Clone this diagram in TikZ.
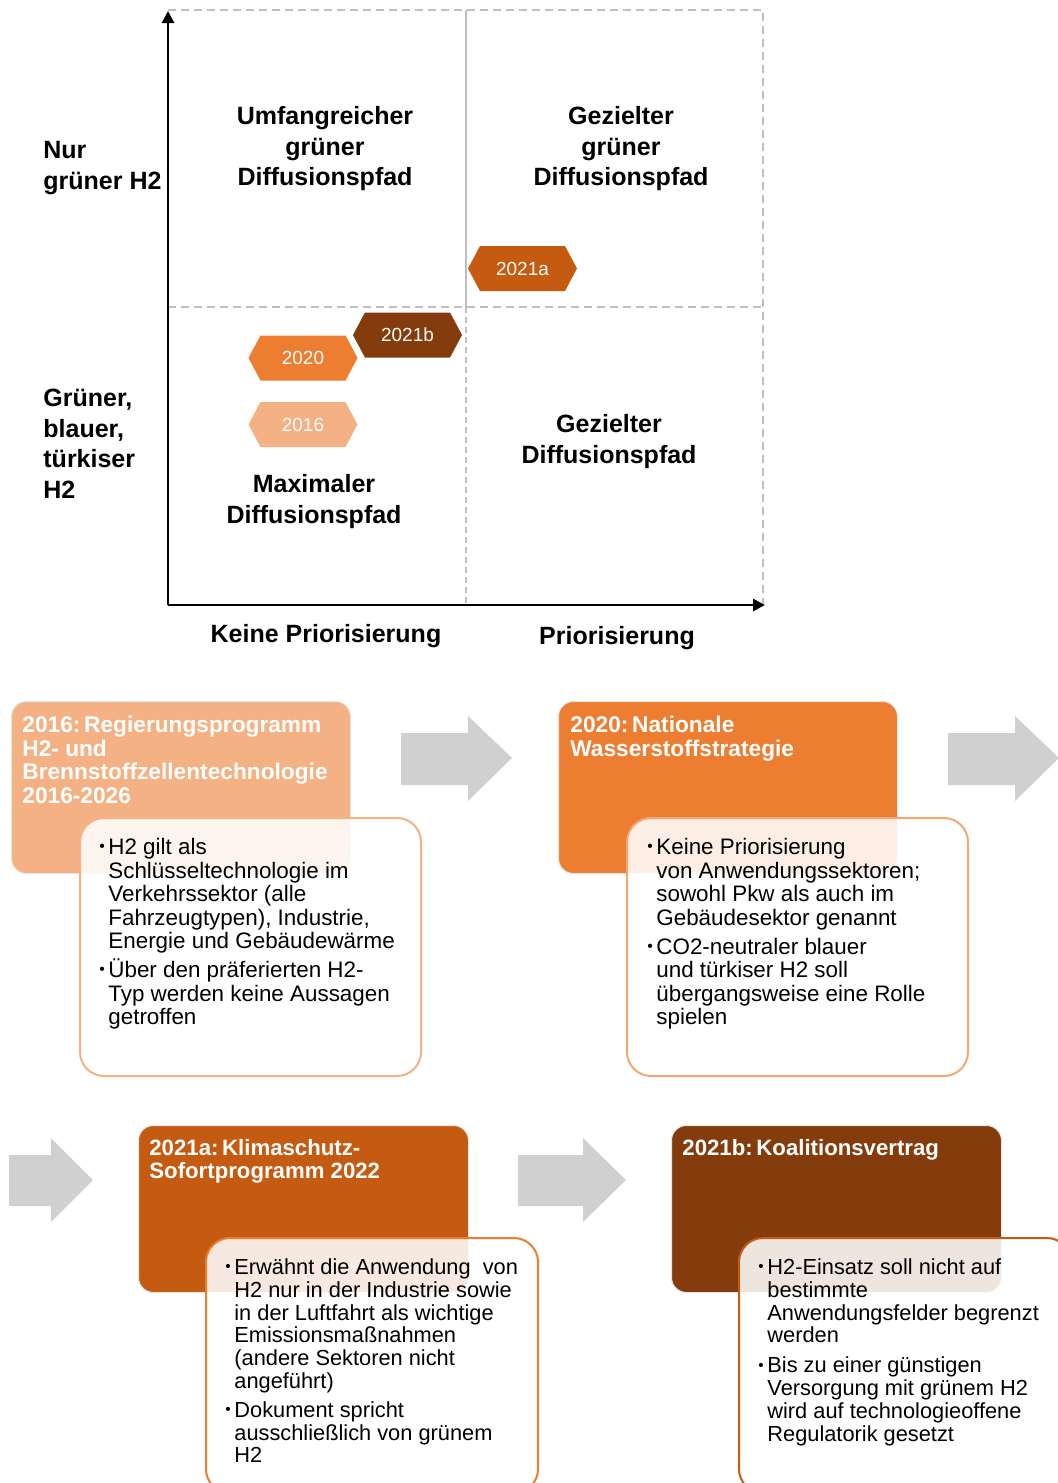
\documentclass[tikz,border=0pt]{standalone}
\usepackage{fontspec}
\usepackage{graphicx}
\setmainfont{Liberation Sans}
\usetikzlibrary{arrows.meta,shapes.symbols}
\definecolor{cA}{HTML}{F4B183}
\definecolor{cB}{HTML}{ED7D31}
\definecolor{cC}{HTML}{C55A11}
\definecolor{cD}{HTML}{843C0C}
\definecolor{arrgrey}{HTML}{D0D0D0}
\definecolor{dashgrey}{HTML}{BFBFBF}
\newcommand\bl{\makebox[4.5pt][l]{\raisebox{0.12em}{\scalebox{0.7}{\textbullet}}}}
\newcommand\ind{\hspace*{4.5pt}}
\begin{document}
\begin{tikzpicture}[x=0.5pt,y=-0.5pt,
  biglabel/.style={font=\fontsize{12.5}{15.25}\selectfont\bfseries, inner sep=0pt},
  hexa/.style={shape=signal, signal to=east and west, signal pointer angle=124,
    minimum width=54.5pt, minimum height=22.5pt, inner sep=0pt, text=white,
    font=\fontsize{9.5}{10}\selectfont},
  hdrbox/.style={draw=gray!20, line width=0.5pt, rounded corners=7.5pt, anchor=north west, inner sep=0pt},
  bodybox/.style={fill=white, fill opacity=0.87, line width=1pt, rounded corners=12pt, anchor=north west, inner sep=0pt},
  hdrtext/.style={text=white, font=\fontsize{11.35}{11.75}\selectfont\bfseries, align=left, anchor=north west, inner sep=0pt},
  hdrtextb/.style={hdrtext, font=\fontsize{11.1}{11.6}\selectfont\bfseries},
  bodytext/.style={font=\fontsize{11.2}{11.75}\selectfont, align=left, anchor=north west, inner sep=0pt},
  bodytextb/.style={bodytext, font=\fontsize{10.9}{11.45}\selectfont},
  blockarrow/.style={fill=arrgrey},
  dashline/.style={draw=dashgrey, line width=0.8pt, dash pattern=on 4pt off 2.5pt},
  axis/.style={line width=1.4pt, -{Triangle[length=6pt,width=6pt]}}
]
\useasboundingbox (0,0) rectangle (1058,1483);

% ---------- matrix ----------
\coordinate (O) at (168,605);
\coordinate (Ytop) at (168,11);
\coordinate (Xend) at (765,605);
\coordinate (TL) at (168,10);
\coordinate (TR) at (763,10);
\coordinate (BR) at (763,605);
\coordinate (ML) at (168,307);
\coordinate (MR) at (763,307);
\coordinate (MT) at (466,10);
\coordinate (MM) at (466,307);
\coordinate (MB) at (466,605);

\draw[dashline] (TL) -- (TR) -- (BR);
\draw[dashline] (ML) -- (MR);
\draw[draw=dashgrey, line width=0.8pt] (MT) -- (MM);
\draw[dashline, dash pattern=on 3pt off 2pt] (MM) -- (MB);
\draw[axis] (O) -- (Ytop);
\draw[axis] (O) -- (Xend);

\node[biglabel, align=left, anchor=north west] (nurgr) at (43,141) {Nur\\grüner H2};
\node[biglabel, align=left, anchor=north west] (gbt) at (43,389) {Grüner,\\blauer,\\türkiser\\H2};
\node[biglabel, align=center, anchor=north] (q1) at (325,106) {Umfangreicher\\grüner\\Diffusionspfad};
\node[biglabel, align=center, anchor=north] (q2) at (621,106) {Gezielter\\grüner\\Diffusionspfad};
\node[biglabel, align=center, anchor=north] (q4) at (609,414) {Gezielter\\Diffusionspfad};
\node[biglabel, align=center, anchor=north] (q3) at (314,474) {Maximaler\\Diffusionspfad};
\node[biglabel, anchor=north] (kp) at (326,624) {Keine Priorisierung};
\node[biglabel, anchor=north] (pr) at (617,626) {Priorisierung};

\node[hexa, fill=cC] (h2021a) at (522.5,268.5) {2021a};
\node[hexa, fill=cD] (h2021b) at (407.5,335) {2021b};
\node[hexa, fill=cB] (h2020) at (303,358) {2020};
\node[hexa, fill=cA] (h2016) at (303,424.5) {2016};

% ---------- block arrows ----------
\fill[blockarrow] (401,733) -- (468,733) -- (468,716) -- (512,758) -- (468,801) -- (468,785) -- (401,785) -- cycle;
\fill[blockarrow] (948,733) -- (1015,733) -- (1015,716) -- (1059,758) -- (1015,801) -- (1015,785) -- (948,785) -- cycle;
\fill[blockarrow] (9,1155) -- (51,1155) -- (51,1138) -- (93,1180) -- (51,1222) -- (51,1206) -- (9,1206) -- cycle;
\fill[blockarrow] (518,1155) -- (583,1155) -- (583,1138) -- (626,1180) -- (583,1222) -- (583,1206) -- (518,1206) -- cycle;

% ---------- box 1 ----------
\node[hdrbox, fill=cA, minimum width=169.5pt, minimum height=86pt] (hd1) at (11,701) {};
\node[bodybox, draw=cA, minimum width=170.5pt, minimum height=129pt] (bd1) at (79,817) {};
\node[hdrtext] (ht1) at (22,716) {2016:\,Regierungsprogramm\\H2- und\\Brennstoffzellentechnologie\\2016-2026};
\node[bodytext] (bt1) at (99,838) {\bl H2 gilt als\\\ind Schlüsseltechnologie im\\\ind Verkehrssektor (alle\\\ind Fahrzeugtypen), Industrie,\\\ind Energie und Gebäudewärme\\[2.75pt]\bl Über den präferierten H2-\\\ind Typ werden keine Aussagen\\\ind getroffen};

% ---------- box 2 ----------
\node[hdrbox, fill=cB, minimum width=169.5pt, minimum height=86pt] (hd2) at (558,701) {};
\node[bodybox, draw=cA!80!cB, minimum width=170.5pt, minimum height=129pt] (bd2) at (626,817) {};
\node[hdrtext] (ht2) at (570,716) {2020:\,Nationale\\Wasserstoffstrategie};
\node[bodytext] (bt2) at (647,838) {\bl Keine Priorisierung\\\ind von Anwendungssektoren;\\\ind sowohl Pkw als auch im\\\ind Gebäudesektor genannt\\[2.75pt]\bl CO2-neutraler blauer\\\ind und türkiser H2 soll\\\ind übergangsweise eine Rolle\\\ind spielen};

% ---------- box 3 ----------
\node[hdrbox, fill=cC, minimum width=165pt, minimum height=83.5pt] (hd3) at (138,1125) {};
\node[bodybox, draw=cB, minimum width=166pt, minimum height=127.5pt] (bd3) at (205,1237) {};
\node[hdrtextb] (ht3) at (149,1139) {2021a:\,Klimaschutz-\\Sofortprogramm 2022};
\node[bodytextb] (bt3) at (225,1258) {\bl Erwähnt die Anwendung \ von\\\ind H2 nur in der Industrie sowie\\\ind in der Luftfahrt als wichtige\\\ind Emissionsmaßnahmen\\\ind (andere Sektoren nicht\\\ind angeführt)\\[2.75pt]\bl Dokument spricht\\\ind ausschließlich von grünem\\\ind H2};

% ---------- box 4 ----------
\node[hdrbox, fill=cD, minimum width=165pt, minimum height=83.5pt] (hd4) at (671,1125) {};
\node[bodybox, draw=cC, minimum width=166pt, minimum height=127.5pt] (bd4) at (738,1237) {};
\node[hdrtextb] (ht4) at (682,1139) {2021b:\,Koalitionsvertrag};
\node[bodytextb] (bt4) at (758,1258) {\bl H2-Einsatz soll nicht auf\\\ind bestimmte\\\ind Anwendungsfelder begrenzt\\\ind werden\\[3.5pt]\bl Bis zu einer günstigen\\\ind Versorgung mit grünem H2\\\ind wird auf technologieoffene\\\ind Regulatorik gesetzt};
\end{tikzpicture}
\end{document}
